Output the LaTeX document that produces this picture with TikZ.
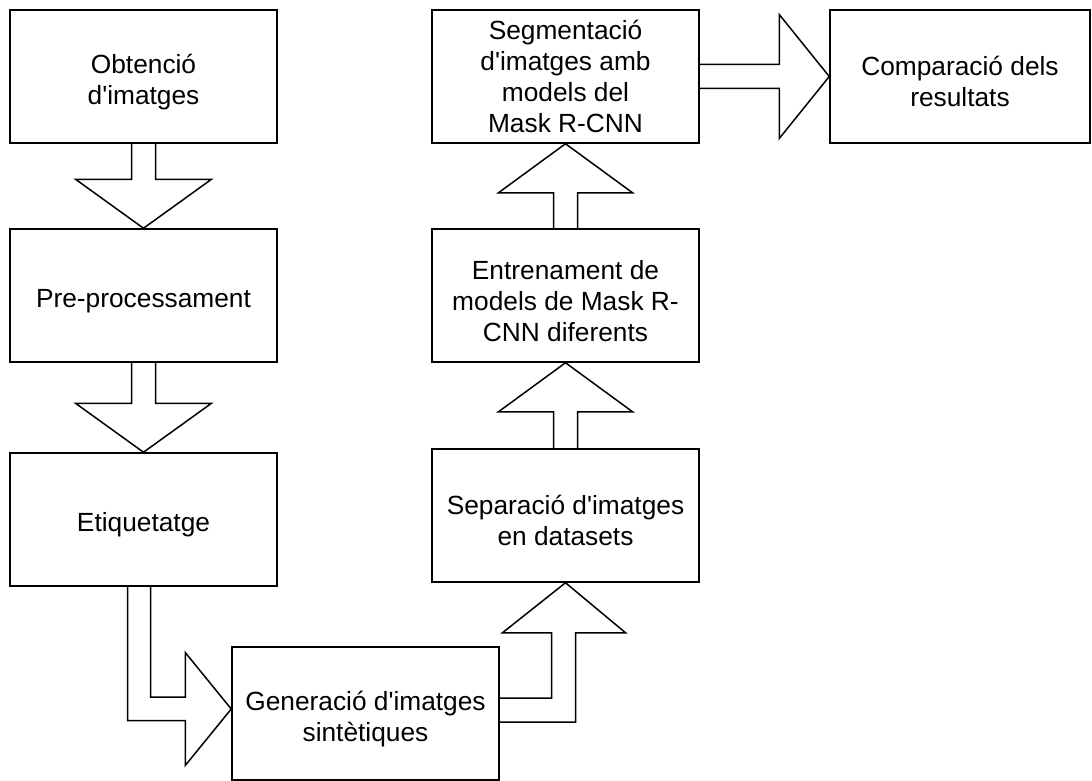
\documentclass[tikz,border=0pt]{standalone}
\usepackage{fontspec}
\setmainfont{Liberation Sans}
\usetikzlibrary{calc}
\newcommand{\q}{\textquotesingle}
\newcommand{\tp}{\rule{0pt}{30pt}}
\begin{document}
\begin{tikzpicture}[x=1pt, y=-1pt, line width=1.5pt,
    box/.style={draw, minimum width=267pt, minimum height=133pt, inner sep=0pt, align=center,
                font=\fontsize{26.3}{31}\selectfont},
    hollow/.style={draw, line join=miter}]
        \useasboundingbox (0,0) rectangle (1092,781);
        % boxes
        \node[box] (obt) at (143.5,76.5) {\tp Obtenció\\d\q imatges};
        \node[box] (pre) at (143.5,295.5) {\tp Pre-processament};
        \node[box] (eti) at (143.5,519.5) {\tp Etiquetatge};
        \node[box] (gen) at (365.5,713.5) {\tp Generació d\q imatges\\sintètiques};
        \node[box] (sep) at (565.5,515.5) {\tp Separació d\q imatges\\en datasets};
        \node[box] (ent) at (565.5,295.5) {\tp Entrenament de\\models de Mask R-\\CNN diferents};
        \node[box] (seg) at (565.5,76.5) {Segmentació\\d\q imatges amb\\models del\\Mask R-CNN};
        \node[box, minimum width=260pt] (com) at (960,76.5) {\tp Comparació dels\\resultats};
        % block arrows
        \foreach \a/\b in {obt/pre, pre/eti}
            \draw[hollow] ($(\a.south)+(-12,0)$) |- ($(\b.north)+(-68,-49)$) -- (\b.north)
                -- ($(\b.north)+(68,-49)$) -| ($(\a.south)+(12,0)$);
        \foreach \a/\b in {sep/ent, ent/seg}
            \draw[hollow] ($(\a.north)+(-12,0)$) |- ($(\b.south)+(-67,49)$) -- (\b.south)
                -- ($(\b.south)+(67,49)$) -| ($(\a.north)+(12,0)$);
        \draw[hollow] ($(seg.east)+(0,-12)$) -- ($(com.west)+(-50,-12)$) -- ($(com.west)+(-50,-62)$)
            -- (com.west) -- ($(com.west)+(-50,62)$) -- ($(com.west)+(-50,12)$) -- ($(seg.east)+(0,12)$);
        \draw[hollow] ($(eti.south)+(-16,0)$) |- ($(gen.west)+(-46,7)$) -- ($(gen.west)+(-46,52)$)
            -- ($(gen.west)+(0,-4.5)$) -- ($(gen.west)+(-46,-61)$) -- ($(gen.west)+(-46,-16.5)$) -| ($(eti.south)+(7,0)$);
        \draw[hollow] ($(gen.east)+(0,-15.5)$) -| ($(sep.south)+(-14,50)$) -- ($(sep.south)+(-63,50)$)
            -- (sep.south) -- ($(sep.south)+(60,50)$) -- ($(sep.south)+(10,50)$) |- ($(gen.east)+(0,8.5)$);
    \end{tikzpicture}
\end{document}
